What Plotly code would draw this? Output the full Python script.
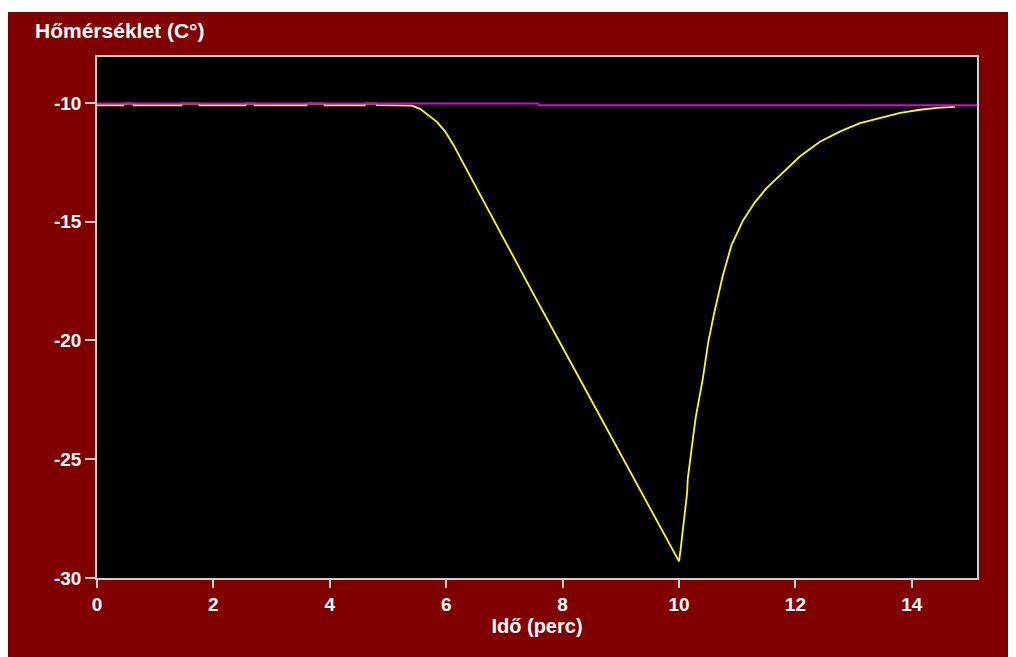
import plotly.graph_objects as go

# Yellow series: measured temperature (°C) vs time (min)
time_meas = [0, 0.45, 0.46, 0.62, 0.63, 1.45, 1.46, 1.75, 1.76, 2.55, 2.56, 2.7,
             2.71, 3.6, 3.61, 3.9, 3.91, 4.6, 4.61, 4.8, 4.81, 5.3, 5.41, 5.55,
             5.72, 5.84, 5.98, 6.12, 6.25, 7.0, 7.5, 8.0, 8.5, 9.0, 9.5, 9.88,
             10.0, 10.03, 10.07, 10.1, 10.14, 10.15, 10.2, 10.24, 10.29, 10.36,
             10.41, 10.5, 10.6, 10.75, 10.9, 11.1, 11.3, 11.5, 11.75, 12.08,
             12.42, 12.77, 13.11, 13.45, 13.8, 14.14, 14.43, 14.74]
temp_meas = [-10.1, -10.1, -10.03, -10.03, -10.1, -10.1, -10.03, -10.03, -10.1,
             -10.1, -10.03, -10.03, -10.1, -10.1, -10.03, -10.03, -10.1, -10.1,
             -10.03, -10.03, -10.1, -10.1, -10.12, -10.25, -10.55, -10.8, -11.2,
             -11.75, -12.35, -15.8, -18.05, -20.3, -22.55, -24.8, -27.05, -28.8,
             -29.3, -28.74, -27.94, -27.18, -26.39, -25.84, -24.8, -24.1, -23.2,
             -22.3, -21.6, -20.1, -18.9, -17.3, -16.0, -14.95, -14.2, -13.6,
             -13.0, -12.25, -11.64, -11.2, -10.85, -10.63, -10.42, -10.29, -10.21,
             -10.17]

# Magenta series: set point
time_set = [0, 7.58, 7.6, 15.12]
temp_set = [-10.03, -10.03, -10.1, -10.1]

x_ticks = [0, 2, 4, 6, 8, 10, 12, 14]
y_ticks = [-10, -15, -20, -25, -30]
y_tick_labels = ["-10", "-15", "-20", "-25", "-30"]

RED = "#800000"
FONT = dict(family="Liberation Sans", size=19, color="white", weight="bold")

fig = go.Figure()
fig.add_trace(go.Scatter(x=time_meas, y=temp_meas, mode="lines",
                         line=dict(color="#FFFF00", width=1.8), showlegend=False))
fig.add_trace(go.Scatter(x=time_set, y=temp_set, mode="lines",
                         line=dict(color="#E000E0", width=2), showlegend=False))

axis_common = dict(showgrid=False, zeroline=False, showline=True, mirror=True,
                   linecolor="#D0D0D0", linewidth=1.5, ticks="outside",
                   tickcolor="#D0D0D0", tickwidth=1.5, tickfont=FONT)

fig.update_layout(
    width=1008, height=649,
    margin=dict(l=89, r=39, t=49, b=79),
    paper_bgcolor=RED, plot_bgcolor="black",
    xaxis=dict(range=[0, 15.12], tickvals=x_ticks, ticklen=8,
               title=dict(text="Idő (perc)", font=dict(family="Liberation Sans", size=20,
                                                      color="white", weight="bold"),
                          standoff=4),
               **axis_common),
    yaxis=dict(range=[-30, -8.07], tickvals=y_ticks, ticktext=y_tick_labels,
               ticklen=10, **axis_common),
    annotations=[dict(text="Hőmérséklet (C°)", xref="paper", yref="paper",
                      x=(33 - 97) / 880, y=(578 - 31) / 521, xanchor="left",
                      yanchor="middle", showarrow=False,
                      font=dict(family="Liberation Sans", size=21, color="white",
                                weight="bold"))],
    shapes=[
        dict(type="rect", xref="paper", yref="paper", layer="above",
             x0=-0.2, x1=1.2, y0=(578 - 12) / 521, y1=1.3,
             fillcolor="white", line=dict(width=0)),
    ],
)

fig.write_html("out.html")
